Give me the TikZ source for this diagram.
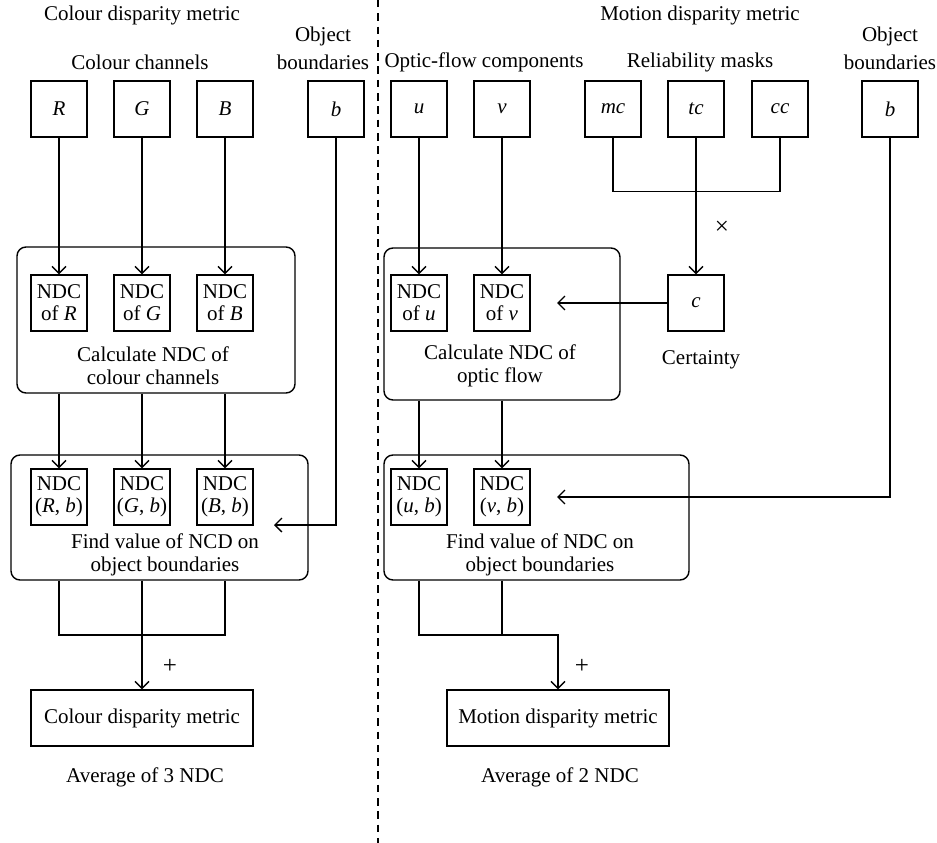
\documentclass[tikz,border=0pt]{standalone}
\usepackage{fontspec}
\setmainfont{Liberation Serif}
\usetikzlibrary{arrows.meta}

\begin{document}
\begin{tikzpicture}[x=1pt,y=-1pt,line width=1.3pt,
    font=\fontsize{21}{23}\selectfont,
    sq/.style={draw,line width=1.4pt,minimum width=56pt,minimum height=56pt,inner sep=0pt,align=center},
    grp/.style={draw,line width=1.4pt,rounded corners=9pt,inner sep=0pt},
    res/.style={draw,line width=1.4pt,minimum width=222pt,minimum height=56pt,inner sep=0pt},
    lbl/.style={align=center,inner sep=0pt},
    arr/.style={-{Straight Barb[length=7pt,width=14pt]}}]

		\useasboundingbox (0,0) rectangle (937,843);

		% dividing line
		\draw [dash pattern=on 7.5pt off 5.8pt, line width=1.3pt] (378,0) -- (378,843);

		% headings
		\node [lbl] (hColour) at (142,15) {Colour disparity metric};
		\node [lbl] (hMotion) at (700,15) {Motion disparity metric};
		\node [lbl] (hChan) at (140,62) {Colour channels};
		\node [lbl] (hFlow) at (484,62) {Optic-flow components};
		\node [lbl] (hMask) at (700,62) {Reliability masks};
		\node [lbl,font=\fontsize{21}{28}\selectfont] (hObjL) at (323,48) {Object\\boundaries};
		\node [lbl,font=\fontsize{21}{28}\selectfont] (hObjR) at (890,48) {Object\\boundaries};

		% group boxes
		\node [grp,minimum width=278pt,minimum height=146pt] (calcL) at (156,320) {};
		\node [grp,minimum width=297pt,minimum height=125pt] (findL) at (159.5,517.5) {};
		\node [grp,minimum width=236pt,minimum height=152pt] (calcR) at (502,324) {};
		\node [grp,minimum width=305pt,minimum height=125pt] (findR) at (536.5,517.5) {};

		\node [lbl] (tCalcL) at (153,366) {Calculate NDC of\\colour channels};
		\node [lbl] (tCalcR) at (500,366) {Calculate NDC of\\optic flow};
		\node [lbl] (tFindL) at (165,555) {Find value of NCD on\\object boundaries};
		\node [lbl] (tFindR) at (540,555) {Find value of NDC on\\object boundaries};

		% input boxes
		\foreach \n/\x/\t in {R/59/R,G/142/G,B/225/B,bL/336/b,u/419/u,v/502/v,mc/613/mc,tc/696/tc,cc/780/cc,bR/890/b}
			\node [sq] (\n) at (\x,109) {\textit{\t}};

		\foreach \n/\x in {R/59,G/142,B/225,u/419,v/502}
		{
			\node [sq,font=\fontsize{21}{22}\selectfont] (N\n) at (\x,303) {NDC\\of \textit{\n}};
			\node [sq,font=\fontsize{21}{22}\selectfont] (M\n) at (\x,497) {NDC\\(\textit{\n}, \textit{b})};
			\draw [arr] (\n) -- (N\n);
		}

		\node [sq] (c) at (696,303) {\textit{c}};
		\node [lbl] (tCert) at (701,360) {Certainty};

		% results
		\node [res] (colM) at (142,718) {Colour disparity metric};
		\node [res] (motM) at (558,718) {Motion disparity metric};
		\node [lbl] (avgL) at (145,777) {Average of 3 NDC};
		\node [lbl] (avgR) at (560,777) {Average of 2 NDC};

		% connectors
		\foreach \n in {R,G,B}
			\draw [arr] (N\n |- calcL.south) -- (M\n);
		\foreach \n in {u,v}
			\draw [arr] (N\n |- calcR.south) -- (M\n);

		\draw (mc.south) -- ++(0,54) -| (cc.south);
		\draw [arr] (tc) -- (c);
		\node [lbl,font=\fontsize{25}{25}\selectfont] (times) at (722,228) {×};

		\coordinate (cEnd) at (557,303);
		\draw [arr] (c) -- (cEnd);

		\coordinate (bLEnd) at (274,525);
		\draw [arr] (bL.south) |- (bLEnd);
		\coordinate (bREnd) at (557,497);
		\draw [arr] (bR.south) |- (bREnd);

		\coordinate (jL) at (142,635);
		\draw (MR |- findL.south) |- (jL) -| (MB |- findL.south);
		\draw [arr] (MG |- findL.south) -- (colM);
		\node [lbl,font=\fontsize{25}{25}\selectfont] (plusL) at (170,666) {+};

		\coordinate (jR) at (558,635);
		\draw [arr] (Mu |- findR.south) |- (jR) -- (motM);
		\draw (Mv |- findR.south) -- (Mv |- jR);
		\node [lbl,font=\fontsize{25}{25}\selectfont] (plusR) at (582,666) {+};
\end{tikzpicture}
\end{document}
